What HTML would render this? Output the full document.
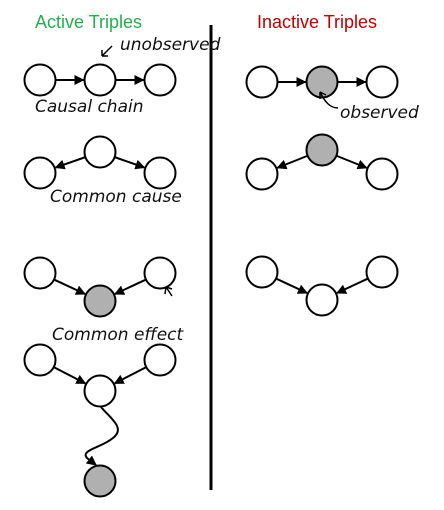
<!DOCTYPE html>
<html><head><meta charset="utf-8"><style>
html,body{margin:0;padding:0;background:#fff;}
svg{display:block;}
.hw{font-family:"DejaVu Sans","Liberation Sans",sans-serif;font-style:italic;font-size:17px;fill:#111;}
</style></head><body>
<svg width="444" height="510" viewBox="0 0 444 510">
<defs><marker id="ah" viewBox="0 0 10 10" refX="9" refY="5" markerWidth="5" markerHeight="5" orient="auto"><path d="M0,0L10,5L0,10z" fill="#000"/></marker></defs>
<text x="35" y="28" font-family="Liberation Sans,sans-serif" font-size="18" fill="#22b04b">Active Triples</text>
<text x="257" y="28" font-family="Liberation Sans,sans-serif" font-size="18" fill="#c00000">Inactive Triples</text>
<line x1="211" y1="25" x2="211" y2="490" stroke="#000" stroke-width="3"/>
<g id="edges" stroke="#000" stroke-width="2" fill="none"></g>
<g id="nodes"></g>
<path d="M101,407 C110,418 126,428 113,438 C101,448 80,450 87,458 L96,465" stroke="#000" stroke-width="2" fill="none" marker-end="url(#ah)"/>
<text class="hw" x="120" y="50">unobserved</text>
<path d="M112,46 L102,56 M102,56 L102,50 M102,56 L108,56" stroke="#000" stroke-width="1.5" fill="none"/>
<text class="hw" x="35" y="112">Causal chain</text>
<text class="hw" x="50" y="202">Common cause</text>
<text class="hw" x="52" y="340">Common effect</text>
<path d="M166,287 L172,296 M166,287 L165,294 M166,287 L172,289" stroke="#000" stroke-width="1.5" fill="none"/>
<text class="hw" x="340" y="118">observed</text>
<path d="M338,108 C330,108 325,102 320,92 M320,92 L320,99 M320,92 L326,95" stroke="#000" stroke-width="1.5" fill="none"/>
</svg>
<script>
const nodes=[
["chain-a",40,80,0],["chain-b",100,80,0],["chain-c",160,80,0],
["cause-top",100,152,0],["cause-l",40,173,0],["cause-r",160,173,0],
["effect-l",40,273,0],["effect-r",160,273,0],["effect-bottom",100,301,1],
["v-l",40,360,0],["v-r",160,360,0],["v-mid",100,391,0],["v-desc",100,481,1],
["in-chain-a",262,82,0],["in-chain-b",322,82,1],["in-chain-c",382,82,0],
["in-cause-top",322,150,1],["in-cause-l",262,174,0],["in-cause-r",382,174,0],
["in-effect-l",262,272,0],["in-effect-r",382,272,0],["in-effect-bottom",322,300,0]];
const edges=[[0,1],[1,2],[3,4],[3,5],[6,8],[7,8],[9,11],[10,11],[13,14],[14,15],[16,17],[16,18],[19,21],[20,21]];
const NS="http://www.w3.org/2000/svg",R=15.5;
const eg=document.getElementById('edges'),ng=document.getElementById('nodes');
edges.forEach(([a,b])=>{const A=nodes[a],B=nodes[b];const dx=B[1]-A[1],dy=B[2]-A[2],d=Math.hypot(dx,dy);
const l=document.createElementNS(NS,'line');
l.setAttribute('x1',A[1]+dx/d*R);l.setAttribute('y1',A[2]+dy/d*R);
l.setAttribute('x2',B[1]-dx/d*(R+1));l.setAttribute('y2',B[2]-dy/d*(R+1));
l.setAttribute('marker-end','url(#ah)');


eg.appendChild(l);});
nodes.forEach(n=>{const c=document.createElementNS(NS,'circle');
c.setAttribute('cx',n[1]);c.setAttribute('cy',n[2]);c.setAttribute('r',R);
c.setAttribute('fill',n[3]?'#b0b0b0':'#fff');c.setAttribute('stroke','#000');c.setAttribute('stroke-width','2');


ng.appendChild(c);});
</script>
</body></html>
